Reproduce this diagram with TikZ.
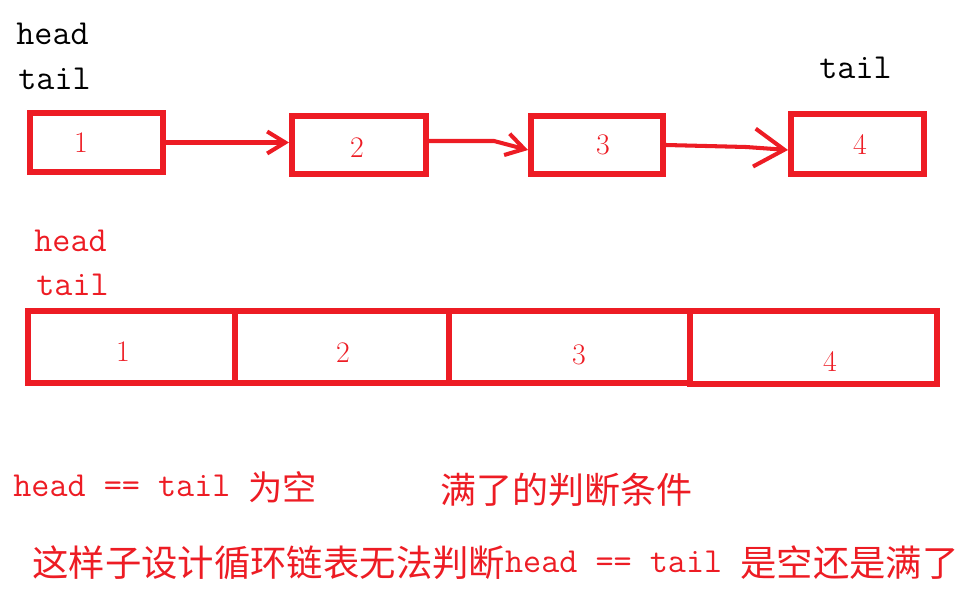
\documentclass[tikz,border=0pt]{standalone}
\usepackage{fontspec}
\usepackage{tikz}
\usetikzlibrary{arrows.meta}

\newfontfamily\cjk{Noto Sans CJK SC}
\definecolor{paintred}{RGB}{237,28,36}

\tikzset{
    cell/.style={draw=paintred, line width=3.4pt, inner sep=0pt},
    num/.style={text=paintred, inner sep=0pt, font=\fontsize{17}{17}\selectfont},
    ptr/.style={anchor=base west, inner sep=0pt, font=\ttfamily\fontsize{20}{20}\selectfont},
    note/.style={text=paintred, anchor=base west, inner sep=0pt},
    link/.style={draw=paintred, line width=2.3pt, -{Straight Barb[length=0.36cm, width=0.44cm]}}
}

\begin{document}
\begin{tikzpicture}[
    x=0.02cm, y=-0.02cm % one unit is one pixel of the sketch
]
\useasboundingbox (0,0) rectangle (976,604);

% Define the nodes of the linked list
\node[cell, minimum width=2.66cm, minimum height=1.18cm] (n1) at (96.5,142.5) {};
\node[cell, minimum width=2.68cm, minimum height=1.16cm] (n2) at (359,145) {};
\node[cell, minimum width=2.64cm, minimum height=1.16cm] (n3) at (597,145) {};
\node[cell, minimum width=2.66cm, minimum height=1.20cm] (n4) at (857.5,144) {};
\node[num] (v1) at (81,143) {1};
\node[num] (v2) at (357,148) {2};
\node[num] (v3) at (603,145) {3};
\node[num] (v4) at (860,145) {4};

\node[ptr] (head1) at (16,45) {head};
\node[ptr] (tail1) at (18,90) {tail};
\node[ptr] (tail4) at (819,79) {tail};

% Define the directed edges
\draw[link] (n1.east) -- (n1.east -| n2.west);
\draw[link] ([yshift=0.08cm]n2.east) -- ++(65,0) -- ([yshift=-0.1cm]n3.west);
\draw[link, -{Straight Barb[length=0.6cm, width=0.76cm]}] (n3.east) -- ++(80,2) -- ([yshift=-0.12cm]n4.west);

% Define the cells of the array
\node[cell, minimum width=4.14cm, minimum height=1.44cm] (c1) at (131.5,347) {};
\node[cell, minimum width=4.28cm, minimum height=1.44cm] (c2) at (342,347) {};
\node[cell, minimum width=4.82cm, minimum height=1.44cm] (c3) at (569.5,347) {};
\node[cell, minimum width=4.94cm, minimum height=1.46cm] (c4) at (813.5,347.5) {};
\node[num] (w1) at (123,352) {1};
\node[num] (w2) at (343,353) {2};
\node[num] (w3) at (579,355) {3};
\node[num] (w4) at (830,362) {4};

\node[ptr, text=paintred] (head2) at (34,252) {head};
\node[ptr, text=paintred] (tail2) at (36,296) {tail};

% Define the notes
\node[note] (empty) at (13,496)
    {{\ttfamily\fontsize{20}{20}\selectfont head == tail }\raisebox{-2.3pt}{\cjk\fontsize{19.5}{19.5}\selectfont 为空}};
\node[note, font=\cjk\fontsize{20.5}{20.5}\selectfont] (full) at (440,503) {满了的判断条件};
\node[note] (problem) at (32,572)
    {\raisebox{-2.3pt}{\cjk\fontsize{20.7}{20.7}\selectfont 这样子设计循环链表无法判断}{\ttfamily\fontsize{20}{20}\selectfont head == tail }\raisebox{-2.3pt}{\cjk\fontsize{20.7}{20.7}\selectfont 是空还是满了}};

\end{tikzpicture}
\end{document}
